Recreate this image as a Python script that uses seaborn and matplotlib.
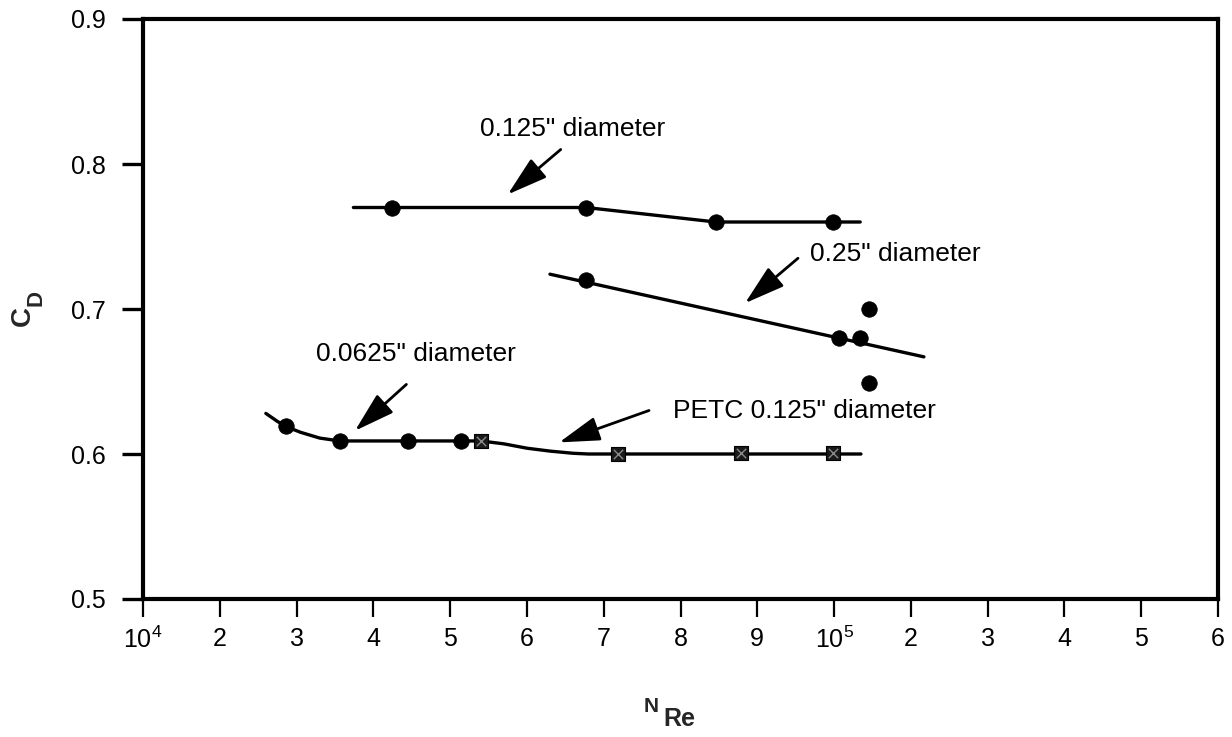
import matplotlib
matplotlib.use('Agg')
import matplotlib.pyplot as plt
import seaborn as sns

# ---- axis ticks ----
xtick_pos = list(range(1, 16))
xtick_labels = [r'$10^4$', '2', '3', '4', '5', '6', '7', '8', '9', r'$10^5$', '2', '3', '4', '5', '6']
ytick_vals = [0.5, 0.6, 0.7, 0.8, 0.9]
ytick_labels = ['0.5', '0.6', '0.7', '0.8', '0.9']

# ---- 0.125" diameter ----
d125_x = [4.24, 6.77, 8.46, 9.99]
d125_y = [0.770, 0.770, 0.760, 0.760]
d125_line_x = [3.74, 6.77, 8.46, 10.34]
d125_line_y = [0.770, 0.770, 0.760, 0.760]

# ---- 0.25" diameter ----
d25_x = [6.77, 10.06, 10.34]
d25_y = [0.720, 0.680, 0.680]
d25_line_x = [6.30, 11.17]
d25_line_y = [0.724, 0.667]
d25_extra_x = [10.45, 10.45]
d25_extra_y = [0.700, 0.649]

# ---- 0.0625" diameter and PETC 0.125" diameter ----
d0625_x = [2.86, 3.56, 4.45, 5.14]
d0625_y = [0.619, 0.609, 0.609, 0.609]
petc_x = [5.40, 7.19, 8.79, 9.99]
petc_y = [0.609, 0.600, 0.601, 0.601]
low_line_x = [2.60, 2.75, 2.86, 3.05, 3.30, 3.56, 5.40, 5.70, 6.00, 6.30, 6.60, 6.80, 10.35]
low_line_y = [0.628, 0.6225, 0.619, 0.615, 0.611, 0.609, 0.609, 0.607, 0.604, 0.602, 0.6005, 0.600, 0.600]

sns.set_theme(style='ticks')
plt.rcParams['font.family'] = ['Liberation Sans', 'DejaVu Sans']
plt.rcParams['mathtext.fontset'] = 'custom'
plt.rcParams['mathtext.rm'] = 'Liberation Sans'
plt.rcParams['mathtext.bf'] = 'Liberation Sans:bold'

fig = plt.figure(figsize=(12.32, 7.37), dpi=100)
ax = fig.add_axes([143/1232, 1 - 599/737, (1218 - 143)/1232, (599 - 19)/737])

line_kw = dict(color='black', linewidth=2.4, sort=False, estimator=None, ax=ax, legend=False)
sns.lineplot(x=d125_line_x, y=d125_line_y, **line_kw)
sns.lineplot(x=d25_line_x, y=d25_line_y, **line_kw)
sns.lineplot(x=low_line_x, y=low_line_y, **line_kw)

circ_kw = dict(marker='o', s=125, color='black', edgecolor='black', linewidth=0.5, ax=ax, zorder=4, legend=False)
sns.scatterplot(x=d125_x, y=d125_y, **circ_kw)
sns.scatterplot(x=d25_x, y=d25_y, **circ_kw)
sns.scatterplot(x=d25_extra_x, y=d25_extra_y, **circ_kw)
sns.scatterplot(x=d0625_x, y=d0625_y, **circ_kw)
sns.scatterplot(x=petc_x, y=petc_y, marker='s', s=110, color='#1a1a1a', edgecolor='black',
                linewidth=0.8, ax=ax, zorder=4, legend=False)
sns.scatterplot(x=petc_x, y=petc_y, marker='x', s=45, color='#8a8a8a', linewidth=1.0,
                ax=ax, zorder=5, legend=False)

ax.set_xlim(1, 15)
ax.set_ylim(0.5, 0.9)
ax.set_xticks(xtick_pos)
ax.set_xticklabels(xtick_labels)
ax.set_yticks(ytick_vals)
ax.set_yticklabels(ytick_labels)
ax.set_xlabel('')
ax.set_ylabel('')

for sp in ax.spines.values():
    sp.set_visible(True)
    sp.set_linewidth(3.0)
    sp.set_color('black')

ax.tick_params(axis='x', direction='out', length=13, width=1.6, pad=7, labelsize=18, colors='black')
ax.tick_params(axis='y', direction='out', length=15, width=2.4, pad=12, labelsize=18, colors='black')
ax.tick_params(top=False, right=False)

# ---- annotations ----
arrow_kw = dict(arrowstyle='-|>,head_length=1.0,head_width=0.3', mutation_scale=25,
                color='black', lw=2.0, shrinkA=0, shrinkB=0)
txt_kw = dict(fontsize=19, color='black', va='center')

ax.text(6.59, 0.824, '0.125" diameter', ha='center', **txt_kw)
ax.annotate('', xy=(5.75, 0.779), xytext=(6.44, 0.810), arrowprops=arrow_kw)

ax.text(10.80, 0.738, '0.25" diameter', ha='center', **txt_kw)
ax.annotate('', xy=(8.84, 0.704), xytext=(9.53, 0.735), arrowprops=arrow_kw)

ax.text(4.56, 0.669, '0.0625" diameter', ha='center', **txt_kw)
ax.annotate('', xy=(3.76, 0.616), xytext=(4.43, 0.648), arrowprops=arrow_kw)

ax.text(7.905, 0.630, 'PETC 0.125" diameter', ha='left', **txt_kw)
ax.annotate('', xy=(6.42, 0.608), xytext=(7.59, 0.630), arrowprops=arrow_kw)

# ---- axis labels ----
fig.text(23/1232, 1 - 316/737, 'C', rotation=90, fontsize=20, fontweight='bold', ha='center', va='center')
fig.text(36/1232, 1 - 298/737, 'D', rotation=90, fontsize=16, fontweight='bold', ha='center', va='center')
fig.text(651/1232, 1 - 707/737, 'N', fontsize=15, fontweight='bold', ha='center', va='center')
fig.text(679/1232, 1 - 719/737, 'Re', fontsize=18, fontweight='bold', ha='center', va='center')

fig.savefig('out.png', dpi=100)
